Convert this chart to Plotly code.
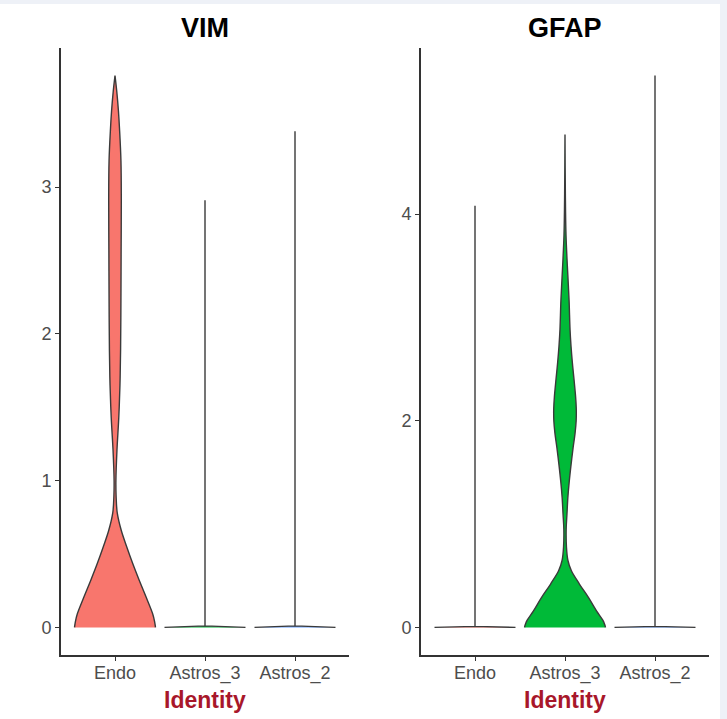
import plotly.graph_objects as go

W, H = 727, 719

categories = ["Endo", "Astros_3", "Astros_2"]
fill_colors = ["#F8766D", "#00BA38", "#619CFF"]

# ---- VIM: density profile (expression level, half-width in category units)
vim_endo_y = [0, 0.04, 0.09, 0.20, 0.32, 0.43, 0.55, 0.66, 0.78, 0.90, 1.00, 1.21, 1.43, 1.65, 1.89, 2.25, 2.57, 2.91, 3.18, 3.40, 3.52, 3.65, 3.76]
vim_endo_w = [0.45, 0.44, 0.42, 0.35, 0.27, 0.20, 0.13, 0.07, 0.025, 0.012, 0.010, 0.022, 0.042, 0.055, 0.062, 0.066, 0.068, 0.070, 0.066, 0.050, 0.038, 0.020, 0.0]
vim_astros3_y = [0, 0.01, 2.91]
vim_astros3_w = [0.45, 0.0, 0.0]
vim_astros2_y = [0, 0.01, 3.38]
vim_astros2_w = [0.45, 0.0, 0.0]

# ---- GFAP
gfap_endo_y = [0, 0.01, 4.08]
gfap_endo_w = [0.45, 0.0, 0.0]
gfap_astros3_y = [0, 0.03, 0.07, 0.16, 0.29, 0.42, 0.55, 0.65, 0.78, 0.95, 1.10, 1.26, 1.42, 1.58, 1.74, 1.88, 2.00, 2.12, 2.23, 2.40, 2.56, 2.72, 2.88, 3.17, 3.50, 3.80, 4.20, 4.77]
gfap_astros3_w = [0.45, 0.44, 0.42, 0.35, 0.26, 0.16, 0.07, 0.032, 0.016, 0.013, 0.022, 0.032, 0.048, 0.068, 0.090, 0.112, 0.124, 0.125, 0.118, 0.100, 0.082, 0.067, 0.056, 0.045, 0.026, 0.011, 0.004, 0.0]
gfap_astros2_y = [0, 0.01, 5.34]
gfap_astros2_w = [0.45, 0.0, 0.0]

vim_profiles = [(vim_endo_y, vim_endo_w), (vim_astros3_y, vim_astros3_w), (vim_astros2_y, vim_astros2_w)]
gfap_profiles = [(gfap_endo_y, gfap_endo_w), (gfap_astros3_y, gfap_astros3_w), (gfap_astros2_y, gfap_astros2_w)]

vim_ticks = [0, 1, 2, 3]
gfap_ticks = [0, 2, 4]

fig = go.Figure()


def add_violins(profiles, xa, ya):
    for i, (ys, ws) in enumerate(profiles):
        c = i + 1
        xs = [c - w for w in ws] + [c + w for w in reversed(ws)]
        yy = list(ys) + list(reversed(ys))
        shape = "spline" if len(ys) > 3 else "linear"
        fig.add_trace(go.Scatter(
            x=xs, y=yy, mode="lines", fill="toself",
            fillcolor=fill_colors[i],
            line=dict(color="#3a3a3a", width=1.4, shape=shape, smoothing=1.0),
            xaxis=xa, yaxis=ya, showlegend=False, hoverinfo="skip"))


add_violins(vim_profiles, "x", "y")
add_violins(gfap_profiles, "x2", "y2")

px_x = lambda p: p / W
px_y = lambda p: 1 - p / H

tickfont = dict(family="Liberation Sans, Arial, sans-serif", size=18, color="#4d4d4d")
axis_common = dict(showline=True, linecolor="#333333", linewidth=1.7,
                   ticks="outside", ticklen=4, tickwidth=1.4, tickcolor="#333333",
                   showgrid=False, zeroline=False, tickfont=tickfont, automargin=False)

fig.update_layout(
    width=W, height=H,
    margin=dict(l=0, r=0, t=0, b=0),
    paper_bgcolor="#eef1f7",
    plot_bgcolor="rgba(0,0,0,0)",
    showlegend=False,
    xaxis=dict(domain=[px_x(61), px_x(349)], range=[0.4, 3.6],
               tickvals=[1, 2, 3], ticktext=categories, anchor="y",
               ticklabelstandoff=-3, **axis_common),
    yaxis=dict(domain=[px_y(655), px_y(48)], range=[-0.188, 3.948],
               tickvals=vim_ticks, anchor="x", **axis_common),
    xaxis2=dict(domain=[px_x(421), px_x(709)], range=[0.4, 3.6],
                tickvals=[1, 2, 3], ticktext=categories, anchor="y2",
                ticklabelstandoff=-3, **axis_common),
    yaxis2=dict(domain=[px_y(655), px_y(48)], range=[-0.267, 5.607],
                tickvals=gfap_ticks, anchor="x2", **axis_common),
    shapes=[dict(type="rect", xref="paper", yref="paper",
                 x0=0, x1=px_x(720), y0=0, y1=px_y(4),
                 fillcolor="white", line=dict(width=0), layer="below")],
)

titles = [("VIM", 205), ("GFAP", 565)]
for txt, cx in titles:
    fig.add_annotation(text=txt, x=px_x(cx), y=px_y(28), xref="paper", yref="paper",
                       showarrow=False, xanchor="center", yanchor="middle",
                       font=dict(family="Liberation Sans, Arial, sans-serif", size=27,
                                 color="black", weight="bold"))
    fig.add_annotation(text="Identity", x=px_x(cx), y=px_y(700), xref="paper", yref="paper",
                       showarrow=False, xanchor="center", yanchor="middle",
                       font=dict(family="Liberation Sans, Arial, sans-serif", size=23,
                                 color="#a8172a", weight="bold"))

fig.write_html("out.html", config={"displayModeBar": False})
